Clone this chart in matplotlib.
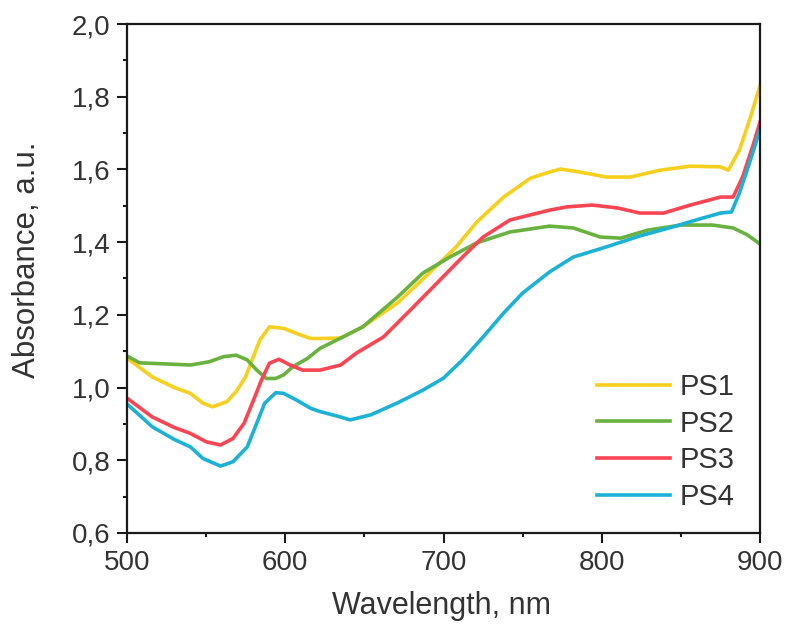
import matplotlib
matplotlib.use("Agg")
import matplotlib.pyplot as plt
from matplotlib.ticker import MultipleLocator, FuncFormatter

plt.rcParams['font.family'] = ['Liberation Sans', 'DejaVu Sans']

ps1_x = [500, 516, 530, 540, 548, 554, 563, 569, 575, 579, 584, 590, 599, 607, 616, 622, 635, 649, 671, 691, 708, 721, 738, 755, 767, 774, 786, 803, 818, 837, 856, 875, 880, 887, 894, 900]
ps1_y = [1.081, 1.029, 1.000, 0.984, 0.957, 0.947, 0.961, 0.989, 1.030, 1.076, 1.131, 1.167, 1.163, 1.149, 1.135, 1.135, 1.136, 1.167, 1.233, 1.315, 1.387, 1.455, 1.524, 1.576, 1.593, 1.601, 1.593, 1.579, 1.579, 1.598, 1.609, 1.607, 1.598, 1.653, 1.744, 1.83]

ps2_x = [500, 508, 530, 540, 552, 561, 569, 576, 582, 588, 594, 599, 605, 614, 622, 635, 649, 671, 687, 704, 721, 742, 767, 782, 799, 812, 829, 850, 870, 883, 892, 900]
ps2_y = [1.087, 1.068, 1.064, 1.062, 1.071, 1.085, 1.089, 1.076, 1.048, 1.025, 1.025, 1.035, 1.058, 1.080, 1.108, 1.136, 1.167, 1.249, 1.315, 1.359, 1.398, 1.428, 1.444, 1.439, 1.414, 1.411, 1.433, 1.447, 1.447, 1.439, 1.420, 1.395]

ps3_x = [500, 516, 530, 540, 550, 559, 567, 574, 580, 585, 590, 596, 603, 611, 622, 635, 645, 662, 679, 696, 712, 725, 742, 767, 778, 794, 810, 824, 839, 856, 875, 883, 889, 896, 900]
ps3_y = [0.971, 0.919, 0.890, 0.874, 0.851, 0.842, 0.860, 0.902, 0.966, 1.021, 1.067, 1.078, 1.062, 1.048, 1.048, 1.062, 1.095, 1.139, 1.213, 1.288, 1.359, 1.414, 1.461, 1.488, 1.497, 1.502, 1.494, 1.480, 1.480, 1.502, 1.524, 1.524, 1.579, 1.672, 1.730]

ps4_x = [500, 516, 530, 540, 548, 559, 567, 576, 582, 587, 594, 599, 607, 616, 622, 635, 641, 654, 671, 687, 700, 712, 725, 738, 750, 767, 782, 803, 824, 845, 862, 875, 882, 887, 894, 900]
ps4_y = [0.955, 0.892, 0.857, 0.837, 0.805, 0.784, 0.796, 0.837, 0.902, 0.957, 0.986, 0.984, 0.966, 0.943, 0.934, 0.919, 0.911, 0.925, 0.958, 0.993, 1.026, 1.076, 1.139, 1.205, 1.260, 1.318, 1.359, 1.387, 1.417, 1.442, 1.464, 1.480, 1.483, 1.535, 1.626, 1.710]

labels = ['PS1', 'PS2', 'PS3', 'PS4']
colors = ['#F7CF1D', '#6AB240', '#FB4553', '#1BB2D6']

W, H = 786, 629
fig = plt.figure(figsize=(W / 100, H / 100), dpi=100)
ax = fig.add_axes([127 / W, 1 - 533 / H, (760 - 127) / W, (533 - 24) / H])

for xs, ys, lab, c in zip([ps1_x, ps2_x, ps3_x, ps4_x], [ps1_y, ps2_y, ps3_y, ps4_y], labels, colors):
    ax.plot(xs, ys, color=c, lw=2.6, label=lab, solid_joinstyle='round')

ax.set_xlim(500, 900)
ax.set_ylim(0.6, 2.0)
ax.xaxis.set_major_locator(MultipleLocator(100))
ax.xaxis.set_minor_locator(MultipleLocator(50))
ax.yaxis.set_major_locator(MultipleLocator(0.2))
ax.yaxis.set_minor_locator(MultipleLocator(0.1))
ax.yaxis.set_major_formatter(FuncFormatter(lambda v, p: f"{v:.1f}".replace('.', ',')))
ax.tick_params(which='major', direction='out', length=7, width=1.5, pad=5,
               labelsize=20, colors='#1a1a1a', labelcolor='#333333')
ax.tick_params(which='minor', direction='out', length=3, width=1.5, colors='#1a1a1a')
ax.tick_params(top=False, right=False, which='both')
for s in ax.spines.values():
    s.set_linewidth(1.6)
    s.set_color('#1a1a1a')

fig.text(441.5 / W, 1 - 606 / H, 'Wavelength, nm', fontsize=22, color='#333333',
         ha='center', va='center')
fig.text(27 / W, 1 - 260 / H, 'Absorbance, a.u.', fontsize=22.5, color='#333333',
         ha='center', va='center', rotation=90)

leg = ax.legend(loc='lower right', bbox_to_anchor=(0.979, 0.02), frameon=False,
                fontsize=21, handlelength=2.5, labelspacing=0.3, borderaxespad=0,
                handletextpad=0.35)
for t in leg.get_texts():
    t.set_color('#333333')

fig.savefig('out.png', dpi=100)
